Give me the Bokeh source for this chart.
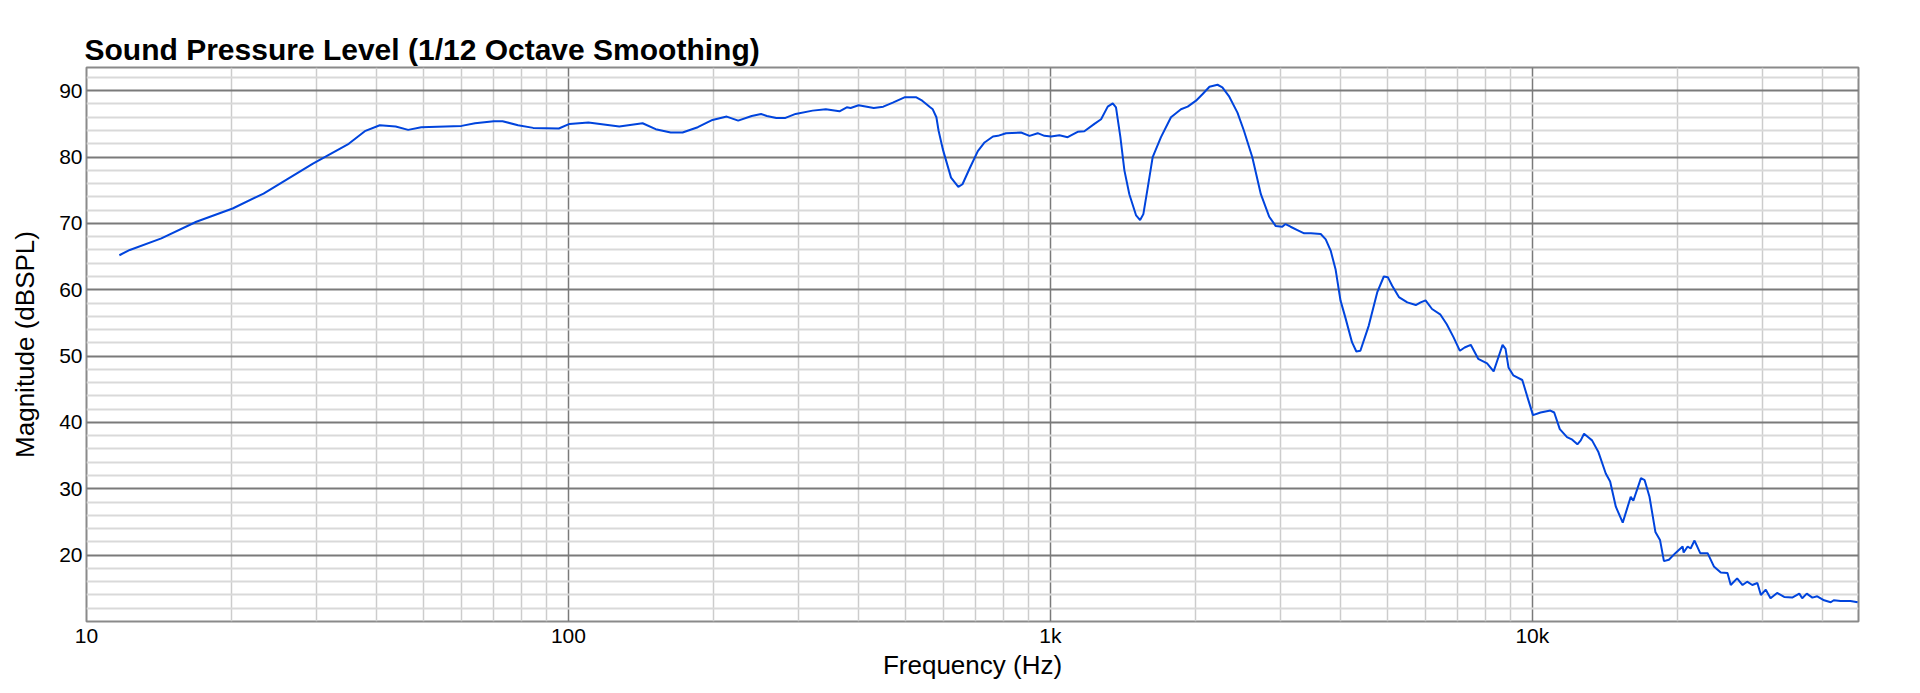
from bokeh.plotting import figure
from bokeh.models import FixedTicker, Range1d, Title
from bokeh.embed import file_html
from bokeh.resources import INLINE

# ---- data ----
freq_hz = [11.7, 12.3, 14.3, 16.9, 20.1, 23.3, 29.5, 35.0, 37.8, 40.6, 43.8, 46.5, 49.5, 60, 64, 70, 73,
           78.6, 84.5, 95.5, 100.5, 110, 127.5, 142.5, 151.7, 163, 172.5, 185.5, 199, 213, 225, 240, 251,
           258, 270, 282, 296, 321, 342, 365, 378, 385, 400, 430, 450, 471, 498, 527, 542, 563, 570, 580,
           586, 598, 622, 644, 657, 679, 707, 730, 760, 778, 809, 869, 905, 941, 972, 1003, 1044, 1086,
           1139, 1176, 1234, 1274, 1315, 1347, 1368, 1397, 1424, 1458, 1506, 1535, 1559, 1592, 1630, 1696,
           1779, 1866, 1927, 2005, 2070, 2138, 2222, 2274, 2346, 2444, 2520, 2623, 2733, 2845, 2935, 3027,
           3075, 3150, 3254, 3361, 3472, 3638, 3726, 3815, 3905, 3998, 4093, 4224, 4313, 4397, 4577, 4765,
           4918, 5013, 5118, 5285, 5502, 5729, 5864, 6003, 6192, 6437, 6643, 6856, 7074, 7236, 7450, 7720,
           8055, 8311, 8526, 8673, 8797, 8922, 9128, 9530, 9760, 10030, 10400, 10900, 11100, 11400, 11800,
           12100, 12400, 12600, 12800, 13100, 13300, 13700, 14200, 14500, 14900, 15400, 16000, 16200,
           16800, 17100, 17500, 18000, 18400, 18750, 19200, 19800, 20500, 20600, 21000, 21300, 21700,
           22300, 23100, 23800, 24600, 25400, 25800, 26600, 27300, 27900, 28600, 29300, 29800, 30500,
           31200, 32200, 33300, 34600, 35800, 36300, 37100, 38100, 39000, 40300, 41600, 42200, 43600,
           45700, 47300]
spl_db = [65.2, 66.0, 67.75, 70.25, 72.25, 74.5, 79.0, 82.0, 83.9, 84.8, 84.6, 84.1, 84.5, 84.7, 85.1, 85.4, 85.4,
          84.8, 84.4, 84.3, 85.0, 85.2, 84.6, 85.1, 84.2, 83.7, 83.7, 84.5, 85.6, 86.1, 85.5, 86.2, 86.5,
          86.2, 85.9, 85.9, 86.5, 87.0, 87.2, 86.9, 87.5, 87.4, 87.8, 87.4, 87.6, 88.2, 89.0, 89.0, 88.5, 87.5, 87.2, 86.0,
          84.0, 81.2, 76.9, 75.5, 75.9, 78.2, 80.9, 82.2, 83.1, 83.2, 83.6, 83.7, 83.2, 83.6, 83.2, 83.1, 83.3, 83.0,
          83.8, 83.9, 85.0, 85.7, 87.6, 88.1, 87.5, 83.0, 78.0, 74.4, 71.2, 70.5, 71.4, 75.4, 80.0, 83.0,
          86.0, 87.2, 87.6, 88.5, 89.5, 90.6, 90.9, 90.5, 89.2, 86.7, 84.0, 80.0, 74.4, 71.0, 69.6, 69.5,
          69.9, 69.5, 69.0, 68.5, 68.5, 68.4, 67.6, 65.9, 63.1, 58.4, 55.8, 52.1, 50.7, 50.8, 54.6, 59.6,
          62.0, 61.9, 60.6, 58.9, 58.1, 57.7, 58.1, 58.4, 57.1, 56.3, 54.8, 52.9, 50.8, 51.3, 51.7, 49.6,
          48.9, 47.7, 50.1, 51.7, 51.1, 48.3, 47.1, 46.4, 43.9, 41.1, 41.5, 41.8, 41.5, 39.0, 37.8,
          37.4, 36.7, 37.3, 38.3, 37.7, 37.3, 35.6, 32.3, 31.1, 27.3, 24.9, 28.8, 28.2,
          31.6, 31.3, 28.8, 23.5, 22.3, 19.1, 19.3, 20.3, 21.3, 20.4, 21.3, 21.0, 22.2,
          20.3, 20.3, 18.3, 17.4, 17.3, 15.5, 16.5, 15.5, 16.0, 15.5, 15.8, 14.0, 14.8,
          13.5, 14.3, 13.7, 13.6, 14.2, 13.5, 14.2, 13.6, 13.8, 13.2, 12.9, 13.2, 13.1,
          13.1, 12.9]

x_major_ticks = [10, 100, 1000, 10000]
x_tick_labels = ["10", "100", "1k", "10k"]
x_minor_ticks = [m * d for d in [10, 100, 1000, 10000] for m in range(2, 10)]
y_major_ticks = [20, 30, 40, 50, 60, 70, 80, 90]
y_minor_ticks = [v for v in range(12, 94, 2) if v % 10 != 0]

title_text = "Sound Pressure Level (1/12 Octave Smoothing)"
x_label = "Frequency (Hz)"
y_label = "Magnitude (dBSPL)"

FONT = "Liberation Sans"

p = figure(width=1920, height=693, x_axis_type="log",
           x_range=Range1d(10, 47500), y_range=Range1d(10, 93.5),
           output_backend="svg", toolbar_location=None,
           min_border_left=86, min_border_right=62, min_border_top=67, min_border_bottom=72)

p.title = Title(text=title_text, text_font=FONT, text_font_size="30px", text_font_style="bold",
                text_color="#000000", align="left", offset=-2, standoff=4)

p.background_fill_color = "white"
p.border_fill_color = "white"
p.outline_line_color = "#8a8a8a"
p.outline_line_width = 2

# grids
xg = p.xgrid[0]
xg.ticker = FixedTicker(ticks=x_major_ticks, minor_ticks=x_minor_ticks)
xg.grid_line_color = "#7a7a7a"
xg.grid_line_width = 1.5
xg.minor_grid_line_color = "#cccccc"
xg.minor_grid_line_width = 1.5

yg = p.ygrid[0]
yg.ticker = FixedTicker(ticks=y_major_ticks, minor_ticks=y_minor_ticks)
yg.grid_line_color = "#7a7a7a"
yg.grid_line_width = 2
yg.minor_grid_line_color = "#d9d9d9"
yg.minor_grid_line_width = 2

# axes
xa = p.xaxis[0]
xa.ticker = FixedTicker(ticks=x_major_ticks)
xa.major_label_overrides = {t: l for t, l in zip(x_major_ticks, x_tick_labels)}
ya = p.yaxis[0]
ya.ticker = FixedTicker(ticks=y_major_ticks)

for ax in (xa, ya):
    ax.axis_line_color = None
    ax.major_tick_line_color = None
    ax.minor_tick_line_color = None
    ax.major_tick_out = 0
    ax.major_tick_in = 0
    ax.minor_tick_out = 0
    ax.minor_tick_in = 0
    ax.major_label_text_font = FONT
    ax.major_label_text_font_size = "21px"
    ax.major_label_text_color = "#000000"
    ax.axis_label_text_font = FONT
    ax.axis_label_text_font_size = "26px"
    ax.axis_label_text_font_style = "normal"
    ax.axis_label_text_color = "#000000"

xa.axis_label = x_label
xa.major_label_standoff = 2
xa.axis_label_standoff = 0
ya.axis_label = y_label
ya.major_label_standoff = 4
ya.axis_label_standoff = 16

p.line(freq_hz, spl_db, line_color="#0044dd", line_width=2)

open("out.html", "w").write(file_html(p, INLINE))
